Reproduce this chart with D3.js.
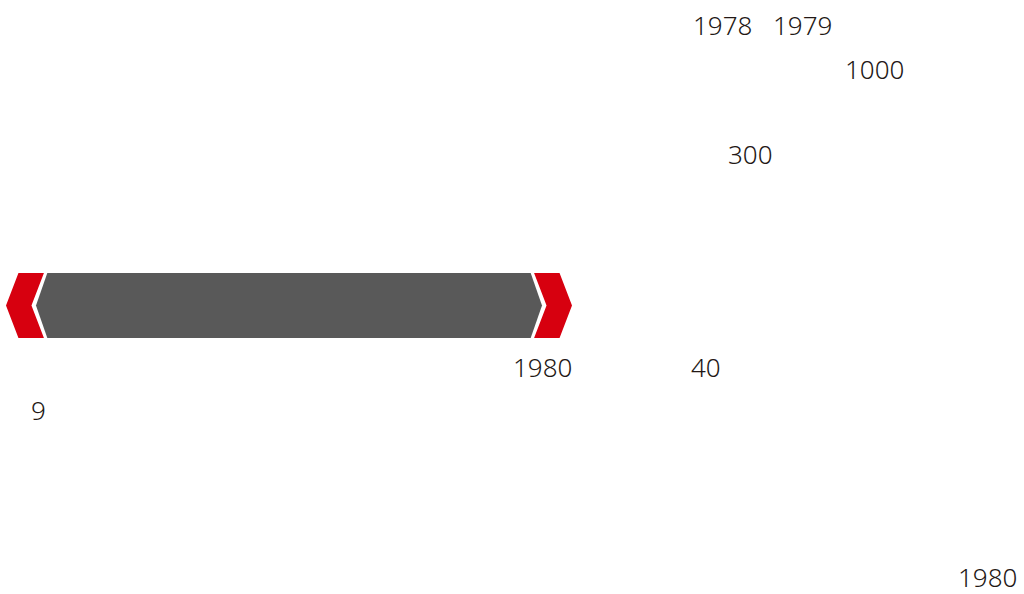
<!DOCTYPE html>
<html>
<head>
<meta charset="utf-8">
<script src="https://cdn.jsdelivr.net/npm/d3@7"></script>
<style>
  body { margin: 0; background: #fff; }
  text { font-family: "Noto Sans", sans-serif; font-weight: 300; }
</style>
</head>
<body>
<div id="chart"></div>
<script>
// label texts shown on the sheet
const labels = ["1978", "1979", "1000", "300", "1980", "40", "9", "1980"];
// banner pieces, in banner units (0..1 across, 0..1 down)
const bannerLeft = [[0.0, 0.5], [0.022, 0], [0.067, 0], [0.045, 0.5], [0.067, 1], [0.022, 1]];
const bannerBody = [[0.053, 0.5], [0.073, 0], [0.927, 0], [0.947, 0.5], [0.927, 1], [0.073, 1]];
const bannerRight = [[0.933, 0], [0.978, 0], [1.0, 0.5], [0.978, 1], [0.933, 1], [0.955, 0.5]];

const width = 1024, height = 594;
const svg = d3.select("#chart").append("svg")
    .attr("width", width)
    .attr("height", height);

// layout of the labels (left x, baseline y)
const spots = [[693, 35], [773, 35], [845, 79], [728, 164], [513, 377], [691, 377], [31, 420], [958, 587]];

const bx = d3.scaleLinear().domain([0, 1]).range([6, 572]);
const by = d3.scaleLinear().domain([0, 1]).range([273, 338]);
const poly = d3.line().x(d => bx(d[0])).y(d => by(d[1])).curve(d3.curveLinearClosed);

svg.append("path").attr("d", poly(bannerLeft)).attr("fill", "#d7000f");
svg.append("path").attr("d", poly(bannerBody)).attr("fill", "#595959");
svg.append("path").attr("d", poly(bannerRight)).attr("fill", "#d7000f");

svg.selectAll("text.lbl")
    .data(labels)
    .enter().append("text")
    .attr("class", "lbl")
    .attr("x", (d, i) => spots[i][0])
    .attr("y", (d, i) => spots[i][1])
    .style("font-size", "26px")
    .style("fill", "#231815")
    .text(d => d);
</script>
</body>
</html>
